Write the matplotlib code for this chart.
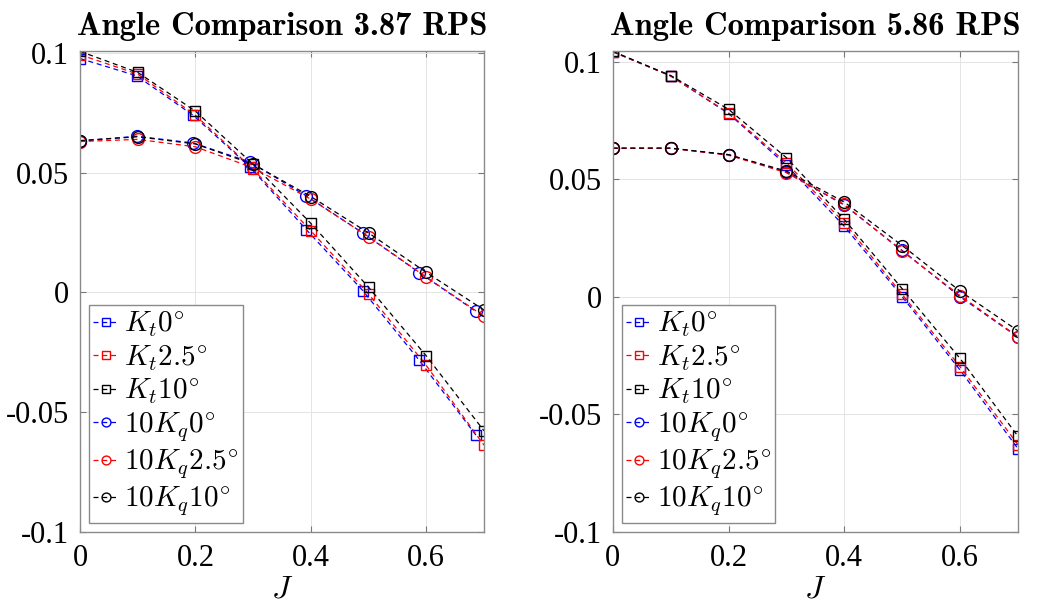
import matplotlib
matplotlib.use("Agg")
import matplotlib.pyplot as plt
from matplotlib.ticker import FuncFormatter

plt.rcParams['mathtext.fontset'] = 'cm'
plt.rcParams['font.family'] = ['Liberation Serif', 'DejaVu Serif']

# advance ratio
J = [0, 0.1, 0.2, 0.3, 0.4, 0.5, 0.6, 0.7]
J_0deg_387 = [0, 0.098, 0.196, 0.294, 0.392, 0.49, 0.588, 0.686]

# 3.87 RPS
kt0_387 = [0.0977, 0.0905, 0.0740, 0.0525, 0.0262, 0.0007, -0.0285, -0.0597]
kt25_387 = [0.0993, 0.0912, 0.0740, 0.0514, 0.0257, -0.0007, -0.0306, -0.0639]
kt10_387 = [0.1007, 0.0919, 0.0757, 0.0535, 0.0288, 0.0021, -0.0266, -0.0579]
kq0_387 = [0.0632, 0.0652, 0.0624, 0.0545, 0.0403, 0.0248, 0.0082, -0.0080]
kq25_387 = [0.0630, 0.0639, 0.0608, 0.0520, 0.0389, 0.0232, 0.0063, -0.0100]
kq10_387 = [0.0634, 0.0650, 0.0620, 0.0535, 0.0400, 0.0248, 0.0083, -0.0074]

# 5.86 RPS
kt0_586 = [0.1043, 0.0940, 0.0780, 0.0560, 0.0300, 0.0000, -0.0312, -0.0647]
kt25_586 = [0.1043, 0.0940, 0.0783, 0.0570, 0.0315, 0.0010, -0.0298, -0.0630]
kt10_586 = [0.1045, 0.0942, 0.0798, 0.0592, 0.0329, 0.0034, -0.0263, -0.0594]
kq0_586 = [0.0632, 0.0632, 0.0605, 0.0530, 0.0390, 0.0197, 0.0000, -0.0172]
kq25_586 = [0.0632, 0.0632, 0.0603, 0.0528, 0.0393, 0.0194, 0.0005, -0.0170]
kq10_586 = [0.0633, 0.0633, 0.0605, 0.0535, 0.0403, 0.0218, 0.0024, -0.0145]

labels = [r'$K_t0^{\circ}$', r'$K_t2.5^{\circ}$', r'$K_t10^{\circ}$',
          r'$10K_q0^{\circ}$', r'$10K_q2.5^{\circ}$', r'$10K_q10^{\circ}$']
colors = ['b', 'r', 'k', 'b', 'r', 'k']
markers = ['s', 's', 's', 'o', 'o', 'o']
xticks = [0, 0.2, 0.4, 0.6]
yticks = [-0.1, -0.05, 0, 0.05, 0.1]

panels = [
    ('3.87', [J_0deg_387, J, J, J_0deg_387, J, J],
     [kt0_387, kt25_387, kt10_387, kq0_387, kq25_387, kq10_387]),
    ('5.86', [J, J, J, J, J, J],
     [kt0_586, kt25_586, kt10_586, kq0_586, kq25_586, kq10_586]),
]

fig = plt.figure(figsize=(10.44, 6.04), dpi=100)
rects = [[0.0766, 0.120, 0.387, 0.795], [0.587, 0.120, 0.388, 0.795]]


def fmt(v, pos):
    s = '%g' % round(v, 4)
    return '0' if s in ('0', '-0') else s


for rect, (rps, xs, ys) in zip(rects, panels):
    ax = fig.add_axes(rect)
    for x, y, c, m, lab in zip(xs, ys, colors, markers, labels):
        ms = 7 if m == 's' else 8.5
        ax.plot(x, y, linestyle=(0, (4, 3)), color=c, lw=0.9, marker=m,
                markersize=ms, markerfacecolor='none', markeredgecolor=c,
                markeredgewidth=1.0, label=lab)
    top = max(max(y) for y in ys)
    ax.set_xlim(0, 0.7)
    ax.set_ylim(-0.1, top)
    ax.set_xticks(xticks)
    ax.set_yticks(yticks)
    ax.yaxis.set_major_formatter(FuncFormatter(fmt))
    ax.xaxis.set_major_formatter(FuncFormatter(fmt))
    ax.grid(True, color='#e4e4e4', lw=0.7)
    ax.set_axisbelow(True)
    ax.tick_params(direction='in', length=4, width=0.8, color='#777777',
                   top=True, right=True, labelsize=22)
    ax.tick_params(axis='x', pad=9)
    ax.tick_params(axis='y', pad=8)
    for sp in ax.spines.values():
        sp.set_color('#8a8a8a')
        sp.set_linewidth(1.0)
    ax.set_xlabel(r'$J$', fontsize=23, labelpad=2)
    ax.set_title('Angle Comparison %s RPS' % rps, family='cmb10',
                 fontsize=23.5, pad=12)
    leg = ax.legend(loc='lower left', fontsize=21, handlelength=0.9,
                    handletextpad=0.15, labelspacing=0.15, borderpad=0.15,
                    borderaxespad=0.3, markerscale=0.75, fancybox=False,
                    framealpha=1, edgecolor='#8a8a8a')
    leg.get_frame().set_linewidth(1.0)

fig.savefig('out.png', dpi=100)
